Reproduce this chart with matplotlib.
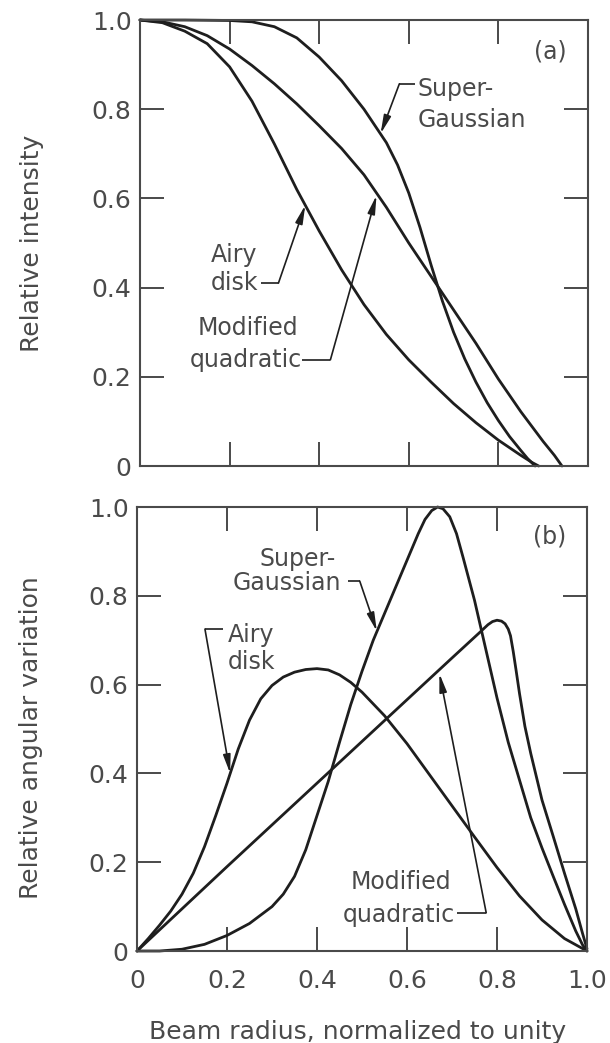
import numpy as np
import matplotlib.pyplot as plt

# values
# (a) relative intensity vs normalized beam radius
airy_a_x = [0, 0.05, 0.10, 0.15, 0.20, 0.25, 0.30, 0.35, 0.40, 0.45, 0.50, 0.55, 0.60,
            0.65, 0.70, 0.75, 0.80, 0.85, 0.875, 0.89]
airy_a_y = [1.0, 0.994, 0.975, 0.947, 0.895, 0.818, 0.722, 0.62, 0.527, 0.44, 0.362, 0.295,
            0.238, 0.188, 0.14, 0.097, 0.058, 0.024, 0.008, 0.0]

sg_a_x = [0, 0.10, 0.20, 0.25, 0.30, 0.35, 0.40, 0.45, 0.50, 0.55, 0.575, 0.60, 0.625, 0.65,
          0.675, 0.70, 0.725, 0.75, 0.775, 0.80, 0.825, 0.85, 0.865, 0.875, 0.882]
sg_a_y = [1.0, 1.0, 0.999, 0.996, 0.985, 0.96, 0.917, 0.864, 0.80, 0.725, 0.675, 0.612, 0.535,
          0.45, 0.37, 0.30, 0.24, 0.188, 0.142, 0.102, 0.066, 0.035, 0.017, 0.007, 0.0]

mq_a_x = [0, 0.05, 0.10, 0.15, 0.20, 0.25, 0.30, 0.35, 0.40, 0.45, 0.50, 0.55, 0.60,
          0.65, 0.70, 0.75, 0.80, 0.85, 0.90, 0.925, 0.942]
mq_a_y = [1.0, 0.996, 0.985, 0.965, 0.935, 0.898, 0.857, 0.812, 0.763, 0.712, 0.653, 0.58, 0.50,
          0.425, 0.35, 0.275, 0.195, 0.122, 0.055, 0.024, 0.0]

# (b) relative angular variation vs normalized beam radius
airy_b_x = [0, 0.025, 0.05, 0.075, 0.10, 0.125, 0.15, 0.175, 0.20, 0.225, 0.25, 0.275, 0.30,
            0.325, 0.35, 0.375, 0.40, 0.425, 0.45, 0.475, 0.50, 0.55, 0.60, 0.65, 0.70,
            0.75, 0.80, 0.85, 0.90, 0.95, 1.0]
airy_b_y = [0, 0.028, 0.058, 0.09, 0.128, 0.175, 0.235, 0.305, 0.378, 0.455, 0.52, 0.568, 0.598,
            0.617, 0.628, 0.634, 0.636, 0.633, 0.622, 0.605, 0.583, 0.53, 0.467, 0.397, 0.327,
            0.257, 0.188, 0.124, 0.07, 0.028, 0.0]

sg_b_x = [0, 0.05, 0.10, 0.15, 0.20, 0.25, 0.30, 0.325, 0.35, 0.375, 0.40, 0.425, 0.45,
          0.475, 0.50, 0.525, 0.55, 0.575, 0.60, 0.625, 0.64, 0.655, 0.668, 0.68, 0.695,
          0.71, 0.725, 0.75, 0.775, 0.80, 0.825, 0.85, 0.875, 0.90, 0.925, 0.95, 0.975,
          0.99, 1.0]
sg_b_y = [0, 0.0, 0.004, 0.015, 0.035, 0.062, 0.10, 0.128, 0.168, 0.228, 0.305, 0.382, 0.47,
          0.555, 0.63, 0.70, 0.76, 0.82, 0.88, 0.94, 0.972, 0.992, 1.0, 0.996, 0.978,
          0.94, 0.885, 0.79, 0.68, 0.57, 0.47, 0.385, 0.30, 0.232, 0.168, 0.105, 0.045,
          0.014, 0.0]

mq_b_x = [0, 0.1, 0.2, 0.3, 0.4, 0.5, 0.6, 0.7, 0.76, 0.78, 0.79, 0.80, 0.81, 0.818,
          0.825, 0.83, 0.836, 0.842, 0.85, 0.862, 0.875, 0.90, 0.925, 0.95, 0.975, 0.99, 1.0]
mq_b_y = [0, 0.095, 0.19, 0.284, 0.378, 0.472, 0.566, 0.66, 0.716, 0.735, 0.742, 0.745, 0.743,
          0.737, 0.725, 0.71, 0.675, 0.635, 0.58, 0.506, 0.445, 0.34, 0.258, 0.175, 0.095,
          0.04, 0.005]

xticks = [0, 0.2, 0.4, 0.6, 0.8, 1.0]
xticklabels = ['0', '0.2', '0.4', '0.6', '0.8', '1.0']
yticks = [0, 0.2, 0.4, 0.6, 0.8, 1.0]
yticklabels = ['0', '0.2', '0.4', '0.6', '0.8', '1.0']

ink = '#1e1e1e'
grey = '#4a4a4a'
plt.rcParams['font.family'] = ['DejaVu Sans']

fig = plt.figure(figsize=(6.1, 10.43), dpi=100)
ax1 = fig.add_axes([0.2295, 0.5532, 0.7344, 0.4276])
ax2 = fig.add_axes([0.2246, 0.0882, 0.7377, 0.4257])


def style(ax, show_x):
    ax.set_xlim(0, 1)
    ax.set_ylim(0, 1)
    ax.set_xticks(xticks)
    ax.set_yticks(yticks)
    ax.set_yticklabels(yticklabels)
    if show_x:
        ax.set_xticklabels(xticklabels)
    else:
        ax.set_xticklabels([])
    ax.tick_params(direction='in', length=17, width=1.4, color=grey,
                   top=True, right=True, labelsize=18, labelcolor=grey)
    ax.tick_params(axis='y', pad=6)
    ax.tick_params(axis='x', pad=13)
    for s in ax.spines.values():
        s.set_color(grey)
        s.set_linewidth(1.5)


def leader(ax, pts, tip):
    xs = [p[0] for p in pts]
    ys = [p[1] for p in pts]
    ax.plot(xs, ys, color=ink, lw=1.2, solid_capstyle='butt')
    ax.annotate('', xy=tip, xytext=pts[-1],
                arrowprops=dict(arrowstyle='-|>,head_length=1.1,head_width=0.22',
                                color=ink, lw=1.2, shrinkA=0, shrinkB=0))


lw = 2.0
for ax, data in [(ax1, [(airy_a_x, airy_a_y), (sg_a_x, sg_a_y), (mq_a_x, mq_a_y)]),
                 (ax2, [(airy_b_x, airy_b_y), (sg_b_x, sg_b_y), (mq_b_x, mq_b_y)])]:
    for x, y in data:
        ax.plot(x, y, color=ink, lw=lw, solid_joinstyle='round',
                solid_capstyle='round', clip_on=False)

style(ax1, False)
style(ax2, True)

tk = dict(color=grey, fontsize=17, ha='center', va='center')

# panel (a) labels
ax1.text(0.915, 0.93, '(a)', **tk)
ax1.text(0.62, 0.846, 'Super-', **dict(tk, ha='left'))
ax1.text(0.62, 0.775, 'Gaussian', **dict(tk, ha='left'))
leader(ax1, [(0.614, 0.857), (0.579, 0.857)], (0.537, 0.745))
ax1.text(0.21, 0.473, 'Airy', **tk)
ax1.text(0.21, 0.41, 'disk', **tk)
leader(ax1, [(0.27, 0.41), (0.309, 0.41)], (0.369, 0.585))
ax1.text(0.24, 0.309, 'Modified', **tk)
ax1.text(0.236, 0.238, 'quadratic', **tk)
leader(ax1, [(0.362, 0.238), (0.425, 0.238)], (0.528, 0.607))
ax1.set_ylabel('Relative intensity', fontsize=18, color=grey)
ax1.yaxis.set_label_coords(-0.215, 0.5)

# panel (b) labels
ax2.text(0.918, 0.934, '(b)', **tk)
ax2.text(0.358, 0.883, 'Super-', **tk)
ax2.text(0.332, 0.829, 'Gaussian', **tk)
leader(ax2, [(0.468, 0.833), (0.495, 0.833)], (0.533, 0.72))
ax2.text(0.254, 0.712, 'Airy', **tk)
ax2.text(0.254, 0.65, 'disk', **tk)
leader(ax2, [(0.19, 0.725), (0.151, 0.725)], (0.207, 0.40))
ax2.text(0.586, 0.156, 'Modified', **tk)
ax2.text(0.582, 0.082, 'quadratic', **tk)
leader(ax2, [(0.712, 0.086), (0.776, 0.086)], (0.672, 0.625))
ax2.set_ylabel('Relative angular variation', fontsize=18, color=grey)
ax2.yaxis.set_label_coords(-0.21, 0.48)
ax2.set_xlabel('Beam radius, normalized to unity', fontsize=18, color=grey)
ax2.xaxis.set_label_coords(0.49, -0.155)

fig.savefig('out.png', dpi=100)
